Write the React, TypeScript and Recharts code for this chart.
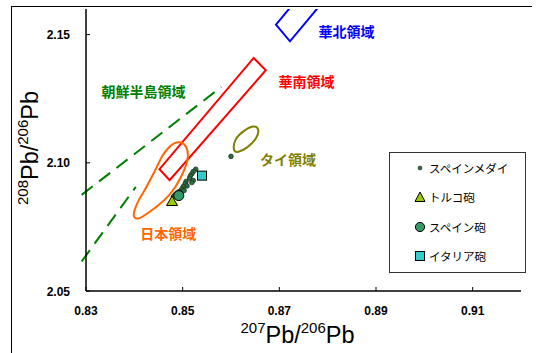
import React from 'react';
import { ScatterChart, Scatter, XAxis, YAxis, ReferenceLine, ReferenceDot, Legend } from 'recharts';

// ---- axis ticks ----
const X_TICKS = [0.83, 0.85, 0.87, 0.89, 0.91];
const Y_TICKS = [2.05, 2.1, 2.15];
const X_DOMAIN = [0.83, 0.92];
const Y_DOMAIN = [2.05, 2.16];

// ---- measured samples ----
const spanishMedals = [
  { x: 0.8527, y: 2.0975 }, { x: 0.8522, y: 2.0966 }, { x: 0.8519, y: 2.0957 },
  { x: 0.8516, y: 2.0949 }, { x: 0.8514, y: 2.094 }, { x: 0.8522, y: 2.0931 },
  { x: 0.8519, y: 2.0923 }, { x: 0.8507, y: 2.0927 }, { x: 0.8505, y: 2.0918 },
  { x: 0.8509, y: 2.091 }, { x: 0.8501, y: 2.0907 }, { x: 0.8498, y: 2.0897 },
  { x: 0.8503, y: 2.0892 }, { x: 0.8493, y: 2.0888 }, { x: 0.8488, y: 2.0882 },
  { x: 0.8496, y: 2.0879 }, { x: 0.8484, y: 2.0875 }, { x: 0.8481, y: 2.0868 },
  { x: 0.8491, y: 2.0866 }, { x: 0.86, y: 2.1025 },
];
const turkishCannon = [{ x: 0.8478, y: 2.0849 }];
const spanishCannon = [{ x: 0.8492, y: 2.0872 }];
const italianCannon = [{ x: 0.854, y: 2.095 }];

// ---- region outlines ----
const northChina = [
  { x: 0.8693, y: 2.1539 }, { x: 0.8722, y: 2.1474 }, { x: 0.8833, y: 2.1725 }, { x: 0.8804, y: 2.179 },
];
const southChina = [
  { x: 0.8647, y: 2.1409 }, { x: 0.8672, y: 2.1361 }, { x: 0.8473, y: 2.0932 }, { x: 0.8452, y: 2.0975 },
];
const japanRegion = [
  { x: 0.8497, y: 2.1084 }, { x: 0.8509, y: 2.1063 }, { x: 0.8512, y: 2.1027 }, { x: 0.8508, y: 2.0992 },
  { x: 0.8499, y: 2.0953 }, { x: 0.8487, y: 2.091 }, { x: 0.8471, y: 2.0869 }, { x: 0.845, y: 2.0834 },
  { x: 0.8427, y: 2.0802 }, { x: 0.8407, y: 2.0777 }, { x: 0.8397, y: 2.0789 }, { x: 0.84, y: 2.0816 },
  { x: 0.8409, y: 2.0856 }, { x: 0.8423, y: 2.0898 }, { x: 0.8435, y: 2.0941 }, { x: 0.8446, y: 2.0981 },
  { x: 0.8456, y: 2.1023 }, { x: 0.8469, y: 2.1057 }, { x: 0.8482, y: 2.1078 },
];
const thaiRegion = [
  { x: 0.8604, y: 2.1045 }, { x: 0.8607, y: 2.1094 }, { x: 0.8627, y: 2.1127 }, { x: 0.8647, y: 2.1147 },
  { x: 0.8659, y: 2.1135 }, { x: 0.8654, y: 2.1094 }, { x: 0.8633, y: 2.1057 }, { x: 0.8614, y: 2.1039 },
];
const koreaUpper = [{ x: 0.8291, y: 2.0875 }, { x: 0.858, y: 2.1296 }];
const koreaLower = [{ x: 0.8291, y: 2.0615 }, { x: 0.8403, y: 2.0906 }];

const regionLabels = [
  { text: '華北領域', x: 0.8839, y: 2.151, color: '#0000FF' },
  { text: '華南領域', x: 0.8756, y: 2.1316, color: '#FF0000' },
  { text: 'タイ領域', x: 0.8718, y: 2.101, color: '#808000' },
  { text: '朝鮮半島領域', x: 0.8419, y: 2.1277, color: '#008000' },
  { text: '日本領域', x: 0.847, y: 2.0723, color: '#FF6600' },
];

const legendItems = [
  { name: 'スペインメダイ', kind: 'dot' },
  { name: 'トルコ砲', kind: 'triangle' },
  { name: 'スペイン砲', kind: 'circle' },
  { name: 'イタリア砲', kind: 'square' },
];

const COLORS = {
  medal: '#2F6B45',
  turkey: '#99CC00',
  spain: '#339966',
  italy: '#33CCCC',
};

const NUM_FONT = '"Liberation Sans", Arial, sans-serif';
const JP_FONT = '"Noto Sans CJK JP", "Noto Sans", sans-serif';

const emptyShape = () => <g />;

const medalShape = (p: any) => (
  <circle cx={p.cx} cy={p.cy} r={2.3} fill={COLORS.medal} stroke="#1A331F" strokeWidth={0.8} />
);
const triangleShape = (p: any) => (
  <polygon
    points={`${p.cx},${p.cy - 5.5} ${p.cx + 5.5},${p.cy + 4} ${p.cx - 5.5},${p.cy + 4}`}
    fill={COLORS.turkey}
    stroke="#000"
    strokeWidth={1}
  />
);
const circleShape = (p: any) => (
  <circle cx={p.cx} cy={p.cy} r={5} fill={COLORS.spain} stroke="#000" strokeWidth={1} />
);
const squareShape = (p: any) => (
  <rect x={p.cx - 4.5} y={p.cy - 4.5} width={9} height={9} fill={COLORS.italy} stroke="#000" strokeWidth={1} />
);

const XTick = (props: any) => {
  const { x, y, payload } = props;
  return (
    <g>
      <line x1={x} y1={y} x2={x} y2={y - 4} stroke="#000" strokeWidth={1} />
      <text x={x} y={y + 24} textAnchor="middle" fontSize={12} fontWeight="bold" fontFamily={NUM_FONT} fill="#000">
        {Number(payload.value).toFixed(2)}
      </text>
    </g>
  );
};

const YTick = (props: any) => {
  const { x, y, payload } = props;
  return (
    <g>
      <line x1={x} y1={y} x2={x + 4} y2={y} stroke="#000" strokeWidth={1} />
      <text x={x - 16} y={y + 4.5} textAnchor="end" fontSize={12} fontWeight="bold" fontFamily={NUM_FONT} fill="#000">
        {Number(payload.value).toFixed(2)}
      </text>
    </g>
  );
};

const XTitle = (props: any) => {
  const vb = props.viewBox || { x: 86, y: 291, width: 435, height: 62 };
  const cx = vb.x + vb.width / 2 - 6;
  const cy = vb.y + 52;
  return (
    <text x={cx} y={cy} textAnchor="middle" fontFamily={NUM_FONT} fill="#000">
      <tspan fontSize={15} dy={-10}>207</tspan>
      <tspan fontSize={23.5} dy={10}>Pb/</tspan>
      <tspan fontSize={15} dy={-10}>206</tspan>
      <tspan fontSize={23.5} dy={10}>Pb</tspan>
    </text>
  );
};

const YTitle = (props: any) => {
  const vb = props.viewBox || { x: 0, y: 9, width: 86, height: 282 };
  const cx = 38;
  const cy = vb.y + vb.height / 2 - 2;
  return (
    <text x={cx} y={cy} transform={`rotate(-90, ${cx}, ${cy})`} textAnchor="middle" fontFamily={NUM_FONT} fill="#000">
      <tspan fontSize={15} dy={-10}>208</tspan>
      <tspan fontSize={23.5} dy={10}>Pb/</tspan>
      <tspan fontSize={15} dy={-10}>206</tspan>
      <tspan fontSize={23.5} dy={10}>Pb</tspan>
    </text>
  );
};

const legendSymbol = (kind: string) => {
  if (kind === 'dot') return <circle cx={6} cy={6} r={2} fill={COLORS.medal} stroke="#1A331F" strokeWidth={0.6} />;
  if (kind === 'triangle')
    return <polygon points="6,1 11,10.5 1,10.5" fill={COLORS.turkey} stroke="#000" strokeWidth={1} />;
  if (kind === 'circle') return <circle cx={6} cy={6} r={4.6} fill={COLORS.spain} stroke="#000" strokeWidth={1} />;
  return <rect x={1.5} y={1.5} width={9} height={9} fill={COLORS.italy} stroke="#000" strokeWidth={1} />;
};

const LegendBox = () => (
  <div
    style={{
      width: 137,
      height: 121,
      border: '1px solid #333',
      boxSizing: 'border-box',
      background: '#fff',
      position: 'relative',
      fontFamily: JP_FONT,
      fontSize: 11.5,
      color: '#000',
    }}
  >
    {legendItems.map((item, i) => (
      <div
        key={item.name}
        style={{ position: 'absolute', left: 24, top: 7.7 + i * 29.4, height: 14, display: 'flex', alignItems: 'center', whiteSpace: 'nowrap' }}
      >
        <svg width={12} height={12} style={{ display: 'block' }}>
          {legendSymbol(item.kind)}
        </svg>
        <span style={{ marginLeft: 3, lineHeight: '14px' }}>{item.name}</span>
      </div>
    ))}
  </div>
);

export default function App() {
  return (
    <div style={{ position: 'absolute', left: 0, top: 0, width: 537, height: 353, overflow: 'hidden', background: '#fff' }}>
      <div
        style={{
          position: 'absolute',
          left: 10.5,
          top: 5.5,
          width: 521,
          height: 400,
          borderLeft: '1.5px solid #000',
          borderTop: '1.5px solid #000',
          boxSizing: 'border-box',
        }}
      />
      <div style={{ position: 'absolute', left: 0, top: 0 }}>
        <ScatterChart width={537} height={353} margin={{ top: 9, right: 16, bottom: 0, left: 0 }}>
          <XAxis
            type="number"
            dataKey="x"
            domain={X_DOMAIN}
            ticks={X_TICKS}
            allowDataOverflow
            height={62}
            tickSize={0}
            tickMargin={0}
            tickLine={false}
            axisLine={{ stroke: '#000', strokeWidth: 1.5 }}
            tick={<XTick />}
            label={<XTitle />}
            interval={0}
          />
          <YAxis
            type="number"
            dataKey="y"
            domain={Y_DOMAIN}
            ticks={Y_TICKS}
            allowDataOverflow
            width={86}
            tickSize={0}
            tickMargin={0}
            tickLine={false}
            axisLine={{ stroke: '#000', strokeWidth: 1.5 }}
            tick={<YTick />}
            label={<YTitle />}
            interval={0}
          />

          <Scatter name="華北" data={northChina} line={{ stroke: '#0000FF', strokeWidth: 2 }} lineJointType="linearClosed" shape={emptyShape} fill="none" legendType="none" isAnimationActive={false} />
          <Scatter name="華南" data={southChina} line={{ stroke: '#FF0000', strokeWidth: 2 }} lineJointType="linearClosed" shape={emptyShape} fill="none" legendType="none" isAnimationActive={false} />
          <Scatter name="日本" data={japanRegion} line={{ stroke: '#FF6600', strokeWidth: 2 }} lineJointType="basisClosed" shape={emptyShape} fill="none" legendType="none" isAnimationActive={false} />
          <Scatter name="タイ" data={thaiRegion} line={{ stroke: '#808000', strokeWidth: 2 }} lineJointType="basisClosed" shape={emptyShape} fill="none" legendType="none" isAnimationActive={false} />

          <ReferenceLine segment={koreaUpper} stroke="#008000" strokeWidth={2} strokeDasharray="14 8" ifOverflow="visible" />
          <ReferenceLine segment={koreaLower} stroke="#008000" strokeWidth={2} strokeDasharray="14 8" ifOverflow="visible" />

          <Scatter name="スペインメダイ" data={spanishMedals} shape={medalShape} fill={COLORS.medal} isAnimationActive={false} />
          <Scatter name="トルコ砲" data={turkishCannon} shape={triangleShape} fill={COLORS.turkey} isAnimationActive={false} />
          <Scatter name="スペイン砲" data={spanishCannon} shape={circleShape} fill={COLORS.spain} isAnimationActive={false} />
          <Scatter name="イタリア砲" data={italianCannon} shape={squareShape} fill={COLORS.italy} isAnimationActive={false} />

          {regionLabels.map((l) => (
            <ReferenceDot
              key={l.text}
              x={l.x}
              y={l.y}
              r={0}
              fill="none"
              stroke="none"
              ifOverflow="visible"
              label={{ value: l.text, position: 'center', fill: l.color, fontSize: 14, fontWeight: 'bold', fontFamily: JP_FONT }}
            />
          ))}

          <Legend
            layout="vertical"
            align="center"
            verticalAlign="middle"
            content={() => <LegendBox />}
            wrapperStyle={{ position: 'absolute', left: 389, top: 152, width: 137, height: 121, margin: 0 }}
          />
        </ScatterChart>
      </div>
    </div>
  );
}
